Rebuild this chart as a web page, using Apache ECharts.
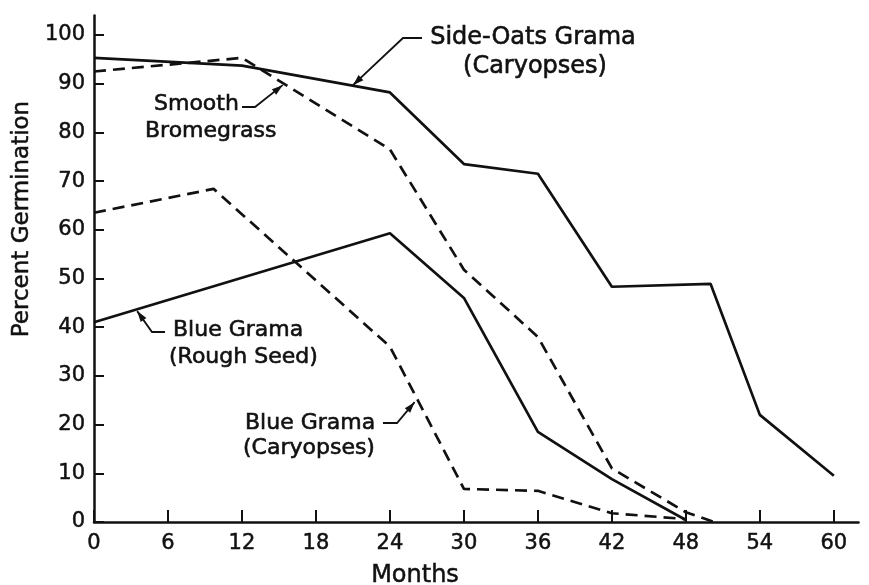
<!DOCTYPE html>
<html>
<head>
<meta charset="utf-8">
<script src="https://cdn.jsdelivr.net/npm/echarts@6/dist/echarts.min.js"></script>
<style>
  html, body { margin: 0; padding: 0; background: #fff; }
  #app { width: 869px; height: 585px; }
</style>
</head>
<body>
<div id="app"></div>
<script>
// months, percent germination
const sideOats = [[0, 95.3], [12, 93.7], [24, 88.2], [30, 73.5], [36, 71.5], [42, 48.3], [50, 48.9], [54, 22], [60, 9.5]];
const bromegrass = [[0, 92.5], [12, 95.3], [24, 76.5], [30, 51.8], [36, 38], [42, 11], [48, 2], [50.3, 0]];
const blueCaryopses = [[0, 63.5], [9.7, 68.4], [24, 36], [30, 6.8], [36, 6.4], [42, 1.8], [48, 0.6]];
const blueRough = [[0, 41], [24, 59.3], [30, 46], [36, 18.5], [42, 8.8], [48, 0.4]];

const monthTicks = [0, 6, 12, 18, 24, 30, 36, 42, 48, 54, 60];
const percentTicks = [0, 10, 20, 30, 40, 50, 60, 70, 80, 90, 100];

// label text and the point on the curve each arrow points to
const notes = [
  { lines: ["Side-Oats Grama", "(Caryopses)"], tip: [21, 89.7] },
  { lines: ["Smooth", "Bromegrass"], tip: [15.3, 89.7] },
  { lines: ["Blue Grama", "(Rough Seed)"], tip: [3.5, 43.3] },
  { lines: ["Blue Grama", "(Caryopses)"], tip: [26, 24.6] }
];

const FONT = "'DejaVu Sans', sans-serif";
const INK = "#111";

function line(data, dashed) {
  return {
    type: "line",
    data: data,
    symbol: "none",
    silent: true,
    lineStyle: { color: INK, width: 2.7, type: dashed ? [12, 7] : "solid" }
  };
}

const chart = echarts.init(document.getElementById("app"));
chart.setOption({
  backgroundColor: "#fff",
  animation: false,
  grid: { left: 94, right: 10.5, top: 15.5, bottom: 63, outerBoundsMode: "none" },
  xAxis: {
    type: "value",
    min: 0,
    max: 62,
    interval: 6,
    axisLine: { lineStyle: { color: INK, width: 2.5 } },
    axisTick: { inside: true, length: 12, customValues: monthTicks, lineStyle: { color: INK, width: 2 } },
    axisLabel: { customValues: monthTicks, color: INK, fontSize: 21, fontFamily: FONT, margin: 11,
      textBorderColor: INK, textBorderWidth: 0.5 },
    splitLine: { show: false }
  },
  yAxis: {
    type: "value",
    min: 0,
    max: 104,
    interval: 10,
    axisLine: { show: true, lineStyle: { color: INK, width: 2.5 } },
    axisTick: { show: true, inside: true, length: 10, customValues: percentTicks, lineStyle: { color: INK, width: 2 } },
    axisLabel: { customValues: percentTicks, color: INK, fontSize: 21, fontFamily: FONT, margin: 9,
      textBorderColor: INK, textBorderWidth: 0.5 },
    splitLine: { show: false }
  },
  series: [
    line(sideOats, false),
    line(bromegrass, true),
    line(blueCaryopses, true),
    line(blueRough, false)
  ]
});

// text placement and leader knees, in pixels
const layout = [
  { size: 24, text: [[533, 38, "center"], [535, 67, "center"]], leader: [[422, 38], [403, 38]] },
  { size: 22, text: [[154, 104, "left"], [145, 131, "left"]], leader: [[242, 107], [255, 107]] },
  { size: 22, text: [[173, 330, "left"], [169, 357, "left"]], leader: [[165, 332], [152, 332]] },
  { size: 22, text: [[245, 423, "left"], [243, 448, "left"]], leader: [[383, 423], [397, 423]] }
];

const graphics = [];
notes.forEach((n, i) => {
  const L = layout[i];
  n.lines.forEach((t, j) => {
    const p = L.text[j];
    graphics.push({
      type: "text",
      x: p[0], y: p[1],
      style: { text: t, fill: INK, font: L.size + "px " + FONT, align: p[2], verticalAlign: "middle",
        stroke: INK, lineWidth: 0.6 }
    });
  });
  const tip = chart.convertToPixel({ gridIndex: 0 }, n.tip);
  const knee = L.leader[1];
  graphics.push({
    type: "polyline",
    shape: { points: [L.leader[0], knee, tip] },
    style: { stroke: INK, lineWidth: 1.8, fill: null }
  });
  const dx = tip[0] - knee[0], dy = tip[1] - knee[1];
  const len = Math.sqrt(dx * dx + dy * dy);
  const ux = dx / len, uy = dy / len;
  const bx = tip[0] - ux * 11, by = tip[1] - uy * 11;
  graphics.push({
    type: "polygon",
    shape: { points: [tip, [bx - uy * 3.5, by + ux * 3.5], [bx + uy * 3.5, by - ux * 3.5]] },
    style: { fill: INK }
  });
});

graphics.push({
  type: "text", x: 415, y: 576,
  style: { text: "Months", fill: INK, font: "24px " + FONT, align: "center", verticalAlign: "middle",
    stroke: INK, lineWidth: 0.5 }
});
graphics.push({
  type: "text", x: 22, y: 219, rotation: Math.PI / 2,
  style: { text: "Percent Germination", fill: INK, font: "23px " + FONT, align: "center", verticalAlign: "middle",
    stroke: INK, lineWidth: 0.5 }
});

chart.setOption({ graphic: graphics });
</script>
</body>
</html>
